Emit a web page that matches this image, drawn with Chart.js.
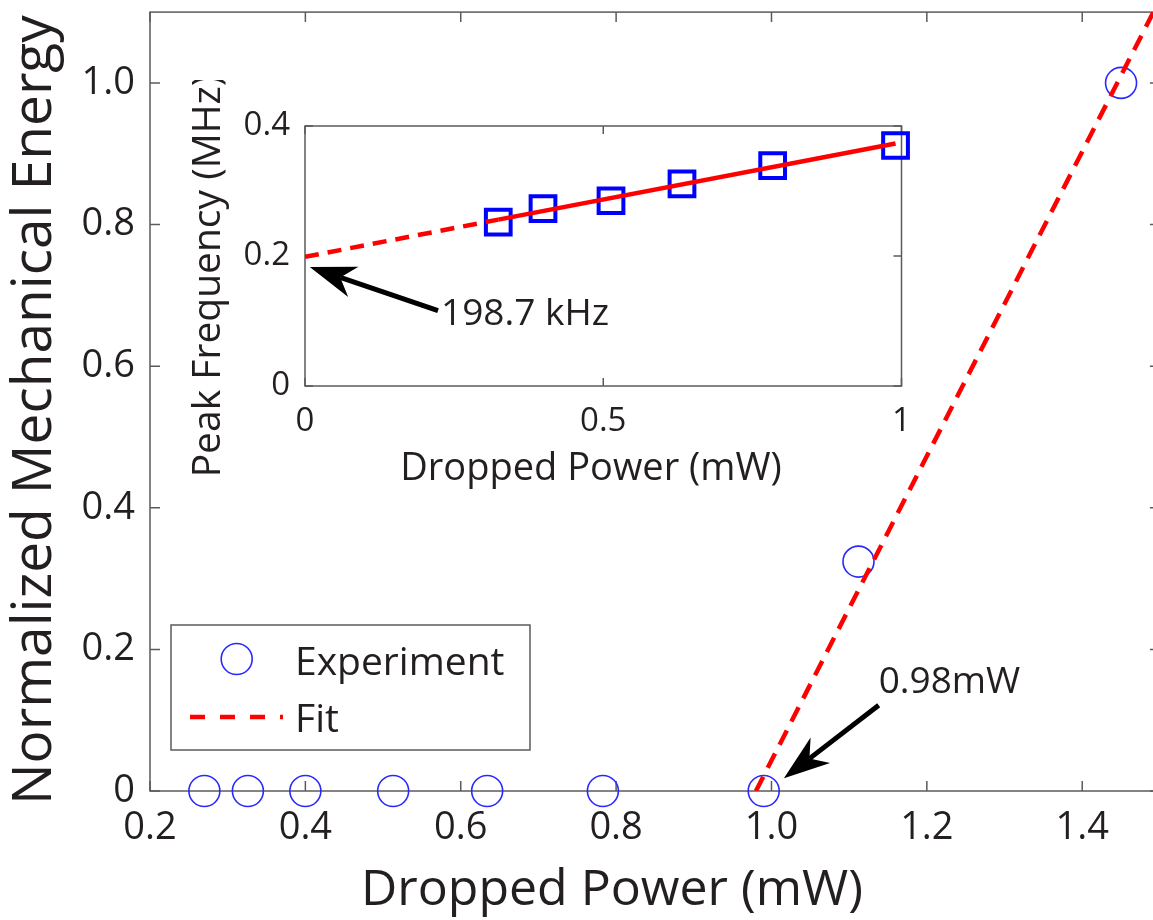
<!DOCTYPE html>
<html>
<head>
<meta charset="utf-8">
<script src="https://cdn.jsdelivr.net/npm/chart.js@4.4.1/dist/chart.umd.min.js"></script>
<style>
  html, body { margin: 0; padding: 0; background: #fff; overflow: hidden; width: 1153px; height: 920px; position: relative; }
  canvas { position: absolute; left: 0; top: 0; }
</style>
</head>
<body>
<canvas id="main" width="1161" height="920"></canvas>
<canvas id="inset" width="760" height="420"></canvas>
<script>
// ---- Main panel: normalized mechanical energy vs. dropped power ----
const powerMW      = [0.27, 0.326, 0.40, 0.513, 0.634, 0.783, 0.99, 1.112, 1.45];
const energyNorm   = [0, 0, 0, 0, 0, 0, 0, 0.324, 1.0];
// linear fit above the 0.98 mW threshold
const fitPowerMW   = [0.98, 1.5];
const fitEnergy    = [0, 1.118];
const xTicks       = [0.2, 0.4, 0.6, 0.8, 1.0, 1.2, 1.4];
const xTickLabels  = ['0.2', '0.4', '0.6', '0.8', '1.0', '1.2', '1.4'];
const yTicks       = [0, 0.2, 0.4, 0.6, 0.8, 1.0];
const yTickLabels  = ['0', '0.2', '0.4', '0.6', '0.8', '1.0'];

// ---- Inset: peak frequency vs. dropped power ----
const insetPowerMW = [0.324, 0.399, 0.513, 0.632, 0.784, 0.99];
const peakFreqMHz  = [0.252, 0.273, 0.285, 0.311, 0.339, 0.370];
const extrapX      = [0, 0.324];
const extrapY      = [0.1987, 0.256];
const freqFitX     = [0.324, 0.99];
const freqFitY     = [0.256, 0.373];
const insetXTicks  = [0, 0.5, 1];
const insetXLabels = ['0', '0.5', '1'];
const insetYTicks  = [0, 0.2, 0.4];
const insetYLabels = ['0', '0.2', '0.4'];

const INK = '#231f20';
const FRAME = '#5b5b5b';
const FONT = "'Open Sans', 'DejaVu Sans', sans-serif";

const pts = (xs, ys) => xs.map((x, i) => ({ x, y: ys[i] }));

// closed box with inward tick marks on all four sides
const frameTicks = {
  id: 'frameTicks',
  beforeDatasetsDraw(chart, args, o) {
    const { ctx, chartArea: a } = chart;
    const sx = chart.scales.x, sy = chart.scales.y;
    ctx.save();
    ctx.strokeStyle = o.color; ctx.lineWidth = o.width; ctx.setLineDash([]);
    ctx.strokeRect(a.left, a.top, a.right - a.left, a.bottom - a.top);
    ctx.beginPath();
    for (const t of sx.ticks) {
      const p = sx.getPixelForValue(t.value);
      ctx.moveTo(p, a.bottom); ctx.lineTo(p, a.bottom - o.len);
      ctx.moveTo(p, a.top); ctx.lineTo(p, a.top + o.len);
    }
    for (const t of sy.ticks) {
      const p = sy.getPixelForValue(t.value);
      ctx.moveTo(a.left, p); ctx.lineTo(a.left + o.len, p);
      ctx.moveTo(a.right, p); ctx.lineTo(a.right - o.len, p);
    }
    ctx.stroke();
    ctx.restore();
  }
};

// axis titles, given in page coordinates
const captions = {
  id: 'captions',
  afterDraw(chart, args, o) {
    const ctx = chart.ctx;
    const ox = chart.canvas.offsetLeft, oy = chart.canvas.offsetTop;
    for (const c of o.items) {
      ctx.save();
      ctx.fillStyle = INK;
      ctx.font = c.size + 'px ' + FONT;
      ctx.textAlign = c.align || 'center';
      ctx.textBaseline = 'alphabetic';
      ctx.translate(c.x - ox, c.y - oy);
      if (c.rotate) ctx.rotate(c.rotate);
      ctx.fillText(c.text, 0, 0);
      ctx.restore();
    }
  }
};

function drawArrow(ctx, tx, ty, sx, sy, lw, L, W) {
  const dx = sx - tx, dy = sy - ty, len = Math.hypot(dx, dy);
  const ux = dx / len, uy = dy / len, px = -uy, py = ux;
  const notch = L * 0.7;
  ctx.lineWidth = lw;
  ctx.lineCap = 'butt';
  ctx.beginPath();
  ctx.moveTo(sx, sy);
  ctx.lineTo(tx + ux * notch, ty + uy * notch);
  ctx.stroke();
  ctx.beginPath();
  ctx.moveTo(tx, ty);
  ctx.lineTo(tx + ux * L + px * W, ty + uy * L + py * W);
  ctx.lineTo(tx + ux * notch, ty + uy * notch);
  ctx.lineTo(tx + ux * L - px * W, ty + uy * L - py * W);
  ctx.closePath();
  ctx.fill();
}

// annotation arrows placed in data coordinates
const pointers = {
  id: 'pointers',
  afterDatasetsDraw(chart, args, o) {
    const ctx = chart.ctx, x = chart.scales.x, y = chart.scales.y;
    for (const p of o.items) {
      ctx.save();
      ctx.strokeStyle = '#000'; ctx.fillStyle = '#000'; ctx.setLineDash([]);
      drawArrow(ctx,
        x.getPixelForValue(p.tip[0]), y.getPixelForValue(p.tip[1]),
        x.getPixelForValue(p.tail[0]), y.getPixelForValue(p.tail[1]),
        p.lw, p.head, p.half);
      ctx.fillStyle = INK;
      ctx.font = p.size + 'px ' + FONT;
      ctx.textAlign = 'left'; ctx.textBaseline = 'alphabetic';
      ctx.fillText(p.text, x.getPixelForValue(p.at[0]), y.getPixelForValue(p.at[1]));
      ctx.restore();
    }
  }
};

// boxed legend for the main panel (page coordinates)
const keyBox = {
  id: 'keyBox',
  afterDraw(chart, args, o) {
    const ctx = chart.ctx;
    const fit = chart.data.datasets[0], exp = chart.data.datasets[1];
    const L = o.left - chart.canvas.offsetLeft, T = o.top - chart.canvas.offsetTop;
    ctx.save();
    ctx.fillStyle = '#fff';
    ctx.fillRect(L, T, o.width, o.height);
    ctx.strokeStyle = FRAME; ctx.lineWidth = 1.5;
    ctx.strokeRect(L, T, o.width, o.height);
    ctx.beginPath();
    ctx.arc(L + 65.7, T + 34, exp.pointRadius, 0, Math.PI * 2);
    ctx.strokeStyle = exp.pointBorderColor; ctx.lineWidth = exp.pointBorderWidth;
    ctx.stroke();
    ctx.beginPath();
    ctx.setLineDash([15, 15]);
    ctx.moveTo(L + 19, T + 92);
    ctx.lineTo(L + 112, T + 92);
    ctx.strokeStyle = fit.borderColor; ctx.lineWidth = fit.borderWidth;
    ctx.stroke();
    ctx.setLineDash([]);
    ctx.fillStyle = INK;
    ctx.font = '39px ' + FONT;
    ctx.textAlign = 'left'; ctx.textBaseline = 'alphabetic';
    ctx.fillText(exp.label, L + 124, T + 50);
    ctx.fillText(fit.label, L + 124, T + 106.7);
    ctx.restore();
  }
};

function axis(min, max, ticks, labels, size, pad, extra) {
  return Object.assign({
    type: 'linear', min, max,
    grid: { display: false, drawTicks: false },
    border: { display: false },
    afterBuildTicks: s => { s.ticks = ticks.map(v => ({ value: v })); },
    ticks: {
      autoSkip: false, maxRotation: 0, padding: pad, color: INK,
      font: { size },
      callback: (v, i) => labels[i]
    }
  }, extra);
}

// size the canvas so the plot box has the wanted extent, then move it into place
function pin(chart, want) {
  for (let k = 0; k < 4; k++) {
    const a = chart.chartArea;
    const dw = Math.round((want.right - want.left) - (a.right - a.left));
    const dh = Math.round((want.bottom - want.top) - (a.bottom - a.top));
    if (!dw && !dh) break;
    chart.resize(chart.width + dw, chart.height + dh);
  }
  const a = chart.chartArea;
  chart.canvas.style.left = (want.left - a.left) + 'px';
  chart.canvas.style.top = (want.top - a.top) + 'px';
  chart.draw();
}

function build() {
  Chart.defaults.font.family = FONT;
  Chart.defaults.color = INK;

  const main = new Chart(document.getElementById('main'), {
    type: 'scatter',
    data: {
      datasets: [
        {
          label: 'Fit', data: pts(fitPowerMW, fitEnergy), showLine: true,
          borderColor: '#ff0000', borderWidth: 4.5, borderDash: [16, 10],
          pointRadius: 0, order: 0
        },
        {
          label: 'Experiment', data: pts(powerMW, energyNorm), showLine: false,
          pointStyle: 'circle', pointRadius: 15.5, pointBorderWidth: 1.6,
          borderColor: 'rgb(40,40,255)', backgroundColor: 'rgba(0,0,0,0)',
          pointBackgroundColor: 'rgba(0,0,0,0)', pointBorderColor: 'rgb(40,40,255)',
          order: 1, clip: false
        }
      ]
    },
    options: {
      responsive: false, maintainAspectRatio: false, animation: false, events: [],
      layout: { padding: { top: 12, right: 1, left: 0, bottom: 0 } },
      plugins: {
        legend: { display: false }, tooltip: { enabled: false },
        frameTicks: { color: FRAME, width: 1.5, len: 10 },
        pointers: { items: [
          { tip: [1.016, 0.018], tail: [1.138, 0.121], lw: 5, head: 46, half: 16,
            text: '0.98mW', at: [1.138, 0.138], size: 37 }
        ] },
        keyBox: { left: 171, top: 625, width: 359, height: 125 },
        captions: { items: [
          { text: 'Dropped Power (mW)', x: 612, y: 905, size: 50 },
          { text: 'Normalized Mechanical Energy', x: 50.5, y: 410, size: 55, rotate: -Math.PI / 2 }
        ] }
      },
      scales: {
        x: axis(0.2, 1.5, xTicks, xTickLabels, 38, 14, {
          afterFit: s => { s.height = 129; s.paddingLeft = 0; s.paddingRight = 0; }
        }),
        y: axis(0, 1.1, yTicks, yTickLabels, 38, 15, {
          afterFit: s => { s.width = 150; s.paddingTop = 0; s.paddingBottom = 0; }
        })
      }
    },
    plugins: [frameTicks, pointers, keyBox, captions]
  });
  pin(main, { left: 150, top: 12, right: 1159.6, bottom: 790.7 });

  const inset = new Chart(document.getElementById('inset'), {
    type: 'scatter',
    data: {
      datasets: [
        {
          label: 'Extrapolation', data: pts(extrapX, extrapY), showLine: true,
          borderColor: '#ff0000', borderWidth: 4.5, borderDash: [14, 9],
          pointRadius: 0, order: 0
        },
        {
          label: 'Linear fit', data: pts(freqFitX, freqFitY), showLine: true,
          borderColor: '#ff0000', borderWidth: 4.5,
          pointRadius: 0, order: 0
        },
        {
          label: 'Peak frequency', data: pts(insetPowerMW, peakFreqMHz), showLine: false,
          pointStyle: 'rect', pointRadius: 17.5, pointBorderWidth: 4,
          pointBorderColor: '#0000ff', pointBackgroundColor: 'rgba(0,0,0,0)',
          borderColor: '#0000ff', backgroundColor: 'rgba(0,0,0,0)',
          order: 1, clip: false
        }
      ]
    },
    options: {
      responsive: false, maintainAspectRatio: false, animation: false, events: [],
      layout: { padding: { top: 46, right: 18, left: 0, bottom: 0 } },
      plugins: {
        legend: { display: false }, tooltip: { enabled: false },
        frameTicks: { color: FRAME, width: 1.5, len: 8 },
        pointers: { items: [
          { tip: [0.008, 0.183], tail: [0.223, 0.116], lw: 5, head: 46, half: 16,
            text: '198.7 kHz', at: [0.228, 0.0934], size: 37 }
        ] },
        captions: { items: [
          { text: 'Dropped Power (mW)', x: 591, y: 480, size: 38 },
          { text: 'Peak Frequency (MHz)', x: 220, y: 276, size: 39, rotate: -Math.PI / 2 }
        ] }
      },
      scales: {
        x: axis(0, 1, insetXTicks, insetXLabels, 33, 16, {
          afterFit: s => { s.height = 114; s.paddingLeft = 0; s.paddingRight = 0; }
        }),
        y: axis(0, 0.4, insetYTicks, insetYLabels, 33, 15, {
          afterFit: s => { s.width = 145; s.paddingTop = 0; s.paddingBottom = 0; }
        })
      }
    },
    plugins: [frameTicks, pointers, captions]
  });
  pin(inset, { left: 305, top: 125.7, right: 901.7, bottom: 385.7 });
}

const ready = document.fonts && document.fonts.load
  ? Promise.all([document.fonts.load("38px 'Open Sans'")]).catch(() => {})
  : Promise.resolve();
ready.then(build, build);
</script>
</body>
</html>
